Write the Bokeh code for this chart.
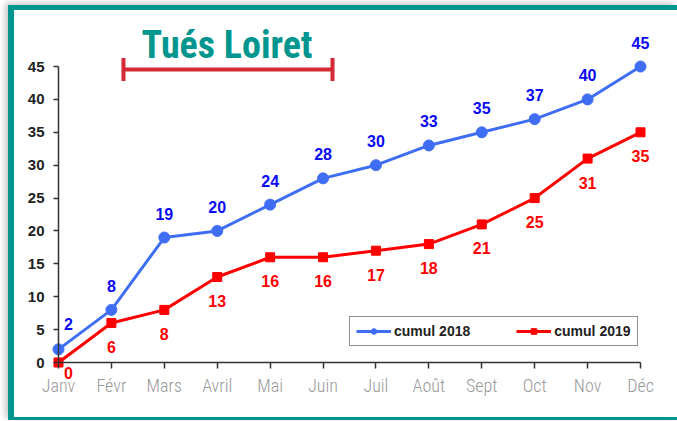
from bokeh.plotting import figure
from bokeh.models import (ColumnDataSource, FixedTicker, Legend, LegendItem,
                          Label, LabelSet, Whisker, TeeHead, LinearAxis)
from bokeh.core.properties import value
from bokeh.embed import file_html
from bokeh.resources import INLINE

# ---- data ----
months = ["Janv", "Févr", "Mars", "Avril", "Mai", "Juin",
          "Juil", "Août", "Sept", "Oct", "Nov", "Déc"]
cumul_2018 = [2, 8, 19, 20, 24, 28, 30, 33, 35, 37, 40, 45]
cumul_2019 = [0, 6, 8, 13, 16, 16, 17, 18, 21, 25, 31, 35]
y_ticks = [0, 5, 10, 15, 20, 25, 30, 35, 40, 45]
title_text = "Tués Loiret"

x = list(range(len(months)))

BLUE_LINE = "#3f6ef5"
BLUE_TEXT = "#0a0af5"
RED = "#ff0000"
TEAL = "#00968f"
AXIS = "#333333"
CONDENSED = "'Roboto Condensed', 'DejaVu Sans Condensed', 'Liberation Sans Narrow', sans-serif"
LIGHT_CONDENSED = "'Roboto Condensed Light', 'Roboto Condensed', 'DejaVu Sans Condensed', sans-serif"

src18 = ColumnDataSource(dict(
    x=x, y=cumul_2018, t=[str(v) for v in cumul_2018],
    xo=[10 if i == 0 else 0 for i in x],
    yo=[25 if i == 0 else 24 for i in x],
))
src19 = ColumnDataSource(dict(
    x=x, y=cumul_2019, t=[str(v) for v in cumul_2019],
    xo=[10 if i == 0 else 0 for i in x],
    yo=[-10 if i == 0 else -24 for i in x],
))

p = figure(width=663, height=407, output_backend="svg", toolbar_location=None,
           x_range=(-0.189, 11.378), y_range=(-2.584, 52.30),
           x_axis_location=None, y_axis_location=None,
           min_border_left=34, min_border_right=23,
           min_border_top=8, min_border_bottom=46)
p.styles = {"box-sizing": "content-box",
            "margin-left": "8px", "margin-top": "5px",
            "border-left": f"6px solid {TEAL}",
            "border-top": f"5px solid {TEAL}",
            "border-bottom": f"3px solid {TEAL}",
            "box-shadow": "-3px -2px 6px rgba(0,0,0,0.22)"}
p.background_fill_color = "white"
p.border_fill_color = "white"
p.outline_line_color = None
p.grid.visible = False

# label-only axes at the frame edges
ylab = LinearAxis(ticker=FixedTicker(ticks=y_ticks),
                  axis_line_color=None, major_tick_line_color=None,
                  minor_tick_line_color=None, major_tick_in=0, major_tick_out=0,
                  major_label_standoff=4,
                  major_label_text_font="Liberation Sans",
                  major_label_text_font_style="bold",
                  major_label_text_font_size="15px",
                  major_label_text_color="#222222")
xlab = LinearAxis(ticker=FixedTicker(ticks=x),
                  major_label_overrides={i: m for i, m in zip(x, months)},
                  axis_line_color=None, major_tick_line_color=None,
                  minor_tick_line_color=None, major_tick_in=0, major_tick_out=0,
                  major_label_standoff=-5,
                  major_label_text_font=LIGHT_CONDENSED,
                  major_label_text_font_size="18px",
                  major_label_text_color="#9a9a9a")
p.add_layout(ylab, "left")
p.add_layout(xlab, "below")

# axis lines and ticks through the origin
yline = LinearAxis(ticker=FixedTicker(ticks=y_ticks), fixed_location=0,
                   bounds=(y_ticks[0], y_ticks[-1]),
                   major_label_overrides={t: "" for t in y_ticks},
                   axis_line_color=AXIS, axis_line_width=1.5,
                   major_tick_line_color=AXIS, major_tick_line_width=1.5,
                   minor_tick_line_color=None, major_tick_in=0, major_tick_out=5)
xline = LinearAxis(ticker=FixedTicker(ticks=x), fixed_location=0,
                   bounds=(x[0], x[-1]),
                   major_label_overrides={i: "" for i in x},
                   axis_line_color=AXIS, axis_line_width=1.5,
                   major_tick_line_color=AXIS, major_tick_line_width=1.5,
                   minor_tick_line_color=None, major_tick_in=0, major_tick_out=6)
p.add_layout(yline, "left")
p.add_layout(xline, "below")

# series
l18 = p.line("x", "y", source=src18, line_color=BLUE_LINE, line_width=3)
m18 = p.scatter("x", "y", source=src18, marker="circle", size=11,
                fill_color=BLUE_LINE, line_color=BLUE_LINE)
l19 = p.line("x", "y", source=src19, line_color=RED, line_width=3)
m19 = p.scatter("x", "y", source=src19, marker="square", size=9,
                fill_color=RED, line_color=RED)

for src, col in ((src18, BLUE_TEXT), (src19, RED)):
    p.add_layout(LabelSet(x="x", y="y", text="t", source=src,
                          x_offset="xo", y_offset="yo",
                          text_align="center", text_baseline="middle",
                          text_font=value("Liberation Sans"),
                          text_font_style="bold",
                          text_font_size="16px", text_color=col))

# title and red bracket (decoration)
p.add_layout(Label(x=3.185, y=48.34, text=title_text, text_align="center",
                   text_baseline="alphabetic",
                   text_font=CONDENSED, text_font_style="bold",
                   text_font_size="38px", text_color=TEAL))
p.add_layout(Whisker(base=44.54, lower=1.228, upper=5.179, dimension="width",
                     line_color="#d42a35", line_width=4,
                     lower_head=TeeHead(size=23, line_color="#d42a35", line_width=4),
                     upper_head=TeeHead(size=23, line_color="#d42a35", line_width=4)))

# legend
legend = Legend(items=[LegendItem(label="cumul 2018", renderers=[l18, m18]),
                       LegendItem(label="cumul 2019", renderers=[l19, m19])],
                orientation="horizontal", location=(301, 33),
                glyph_width=35, glyph_height=14, label_standoff=3,
                spacing=46, padding=6, margin=0,
                border_line_color="#222222", border_line_width=1.5,
                background_fill_color="white", background_fill_alpha=1,
                label_text_font="Liberation Sans", label_text_font_style="bold",
                label_text_font_size="14px", label_text_color="#222222")
p.add_layout(legend, "center")

open("out.html", "w").write(file_html(p, INLINE))
